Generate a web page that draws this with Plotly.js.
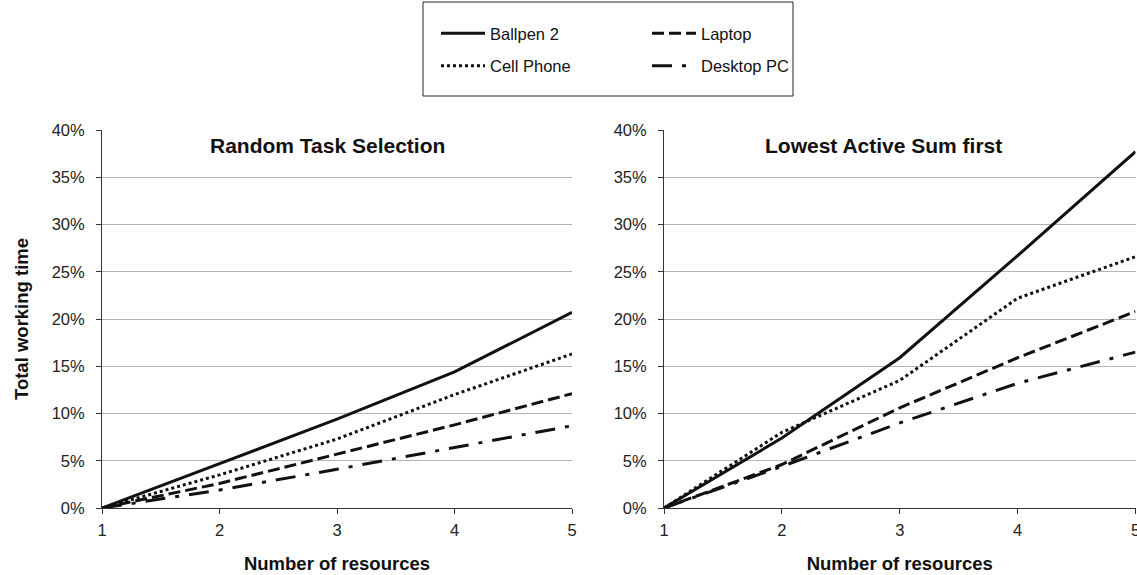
<!DOCTYPE html>
<html>
<head>
<meta charset="utf-8">
<script src="https://cdn.plot.ly/plotly-3.0.1.min.js"></script>
<style>html,body{margin:0;padding:0;background:#fff;}#chart{width:1137px;height:575px;}</style>
</head>
<body>
<div id="chart"></div>
<script>
// ---- data ----
const resources = [1, 2, 3, 4, 5];
const xTickLabels = ['1', '2', '3', '4', '5'];
const seriesNames = ['Ballpen 2', 'Cell Phone', 'Laptop', 'Desktop PC'];
const panelTitles = ['Random Task Selection', 'Lowest Active Sum first'];
const randomBallpen   = [0, 0.047, 0.094, 0.144, 0.207];
const randomCellPhone = [0, 0.035, 0.073, 0.120, 0.163];
const randomLaptop    = [0, 0.026, 0.057, 0.088, 0.121];
const randomDesktop   = [0, 0.019, 0.041, 0.064, 0.087];
const lowestBallpen   = [0, 0.074, 0.159, 0.267, 0.377];
const lowestCellPhone = [0, 0.080, 0.135, 0.222, 0.266];
const lowestLaptop    = [0, 0.046, 0.106, 0.159, 0.208];
const lowestDesktop   = [0, 0.044, 0.090, 0.132, 0.165];
const yTickVals = [0, 0.05, 0.10, 0.15, 0.20, 0.25, 0.30, 0.35, 0.40];
const yTickText = ['0%', '5%', '10%', '15%', '20%', '25%', '30%', '35%', '40%'];

// ---- styles ----
const W = 1137, H = 575;
const px = v => v / W;
const py = v => 1 - v / H;
const FONT = 'Liberation Sans, Arial, sans-serif';
const dashes = {
  'Ballpen 2': 'solid',
  'Cell Phone': '3px,3px',
  'Laptop': '12px,5px',
  'Desktop PC': '20px,10px,4px,10px'
};
const legendOf = {'Ballpen 2': 'legend', 'Cell Phone': 'legend', 'Laptop': 'legend2', 'Desktop PC': 'legend2'};
const randomData = [randomBallpen, randomCellPhone, randomLaptop, randomDesktop];
const lowestData = [lowestBallpen, lowestCellPhone, lowestLaptop, lowestDesktop];

const traces = [];
seriesNames.forEach((name, i) => {
  traces.push({
    x: resources, y: randomData[i], name: name, type: 'scatter', mode: 'lines',
    xaxis: 'x', yaxis: 'y', legend: legendOf[name], legendgroup: 'g' + i,
    line: {color: '#111', width: 3, dash: dashes[name]}, showlegend: true
  });
  traces.push({
    x: resources, y: lowestData[i], name: name, type: 'scatter', mode: 'lines',
    xaxis: 'x2', yaxis: 'y2', legendgroup: 'g' + i,
    line: {color: '#111', width: 3, dash: dashes[name]}, showlegend: false
  });
});

const tickFont = {family: FONT, size: 16.5, color: '#222'};
const titleFont = {family: FONT, size: 18.5, color: '#111', weight: 'bold'};

function xAxis(domain) {
  return {
    domain: domain, range: [1, 5], type: 'linear',
    tickvals: resources, ticktext: xTickLabels,
    showgrid: false, zeroline: false,
    showline: true, linecolor: '#333', linewidth: 1,
    ticks: 'outside', ticklen: 5, tickcolor: '#333', tickwidth: 1,
    tickfont: tickFont, ticklabelstandoff: 2, ticklabeloverflow: 'allow',
    title: {text: 'Number of resources', font: titleFont, standoff: 19},
    automargin: false, fixedrange: true
  };
}
function yAxis(anchor, withTitle) {
  const a = {
    domain: [py(508), py(130)], range: [0, 0.40], anchor: anchor,
    tickvals: yTickVals, ticktext: yTickText,
    showgrid: true, gridcolor: '#b5b5b5', gridwidth: 1,
    zeroline: false,
    showline: true, linecolor: '#333', linewidth: 1,
    ticks: 'outside', ticklen: 5, tickcolor: '#333', tickwidth: 1,
    tickfont: tickFont, ticklabelstandoff: 8, ticklabeloverflow: 'allow',
    automargin: false, fixedrange: true
  };
  if (withTitle) a.title = {text: 'Total working time', font: titleFont, standoff: 18};
  return a;
}

const legendFont = {family: FONT, size: 16.5, color: '#111'};
const layout = {
  width: W, height: H,
  margin: {l: 0, r: 0, t: 0, b: 0},
  paper_bgcolor: '#fff', plot_bgcolor: '#fff',
  xaxis: Object.assign(xAxis([px(102), px(572)]), {anchor: 'y'}),
  yaxis: yAxis('x', true),
  xaxis2: Object.assign(xAxis([px(664), px(1135.5)]), {anchor: 'y2'}),
  yaxis2: yAxis('x2', false),
  legend: {
    x: px(436), y: py(16), xanchor: 'left', yanchor: 'top',
    orientation: 'v', traceorder: 'grouped', tracegroupgap: 8,
    itemwidth: 44, bgcolor: 'rgba(0,0,0,0)', borderwidth: 0, font: legendFont
  },
  legend2: {
    x: px(647), y: py(16), xanchor: 'left', yanchor: 'top',
    orientation: 'v', traceorder: 'grouped', tracegroupgap: 8,
    itemwidth: 44, bgcolor: 'rgba(0,0,0,0)', borderwidth: 0, font: legendFont
  },
  shapes: [{
    type: 'rect', xref: 'paper', yref: 'paper',
    x0: px(423), x1: px(793), y0: py(96), y1: py(2),
    line: {color: '#222', width: 1}, fillcolor: 'rgba(0,0,0,0)'
  }],
  annotations: [
    {text: panelTitles[0], xref: 'paper', yref: 'paper', x: px(327), y: py(145),
     xanchor: 'center', yanchor: 'middle', showarrow: false,
     font: {family: FONT, size: 21, color: '#111', weight: 'bold'}},
    {text: panelTitles[1], xref: 'paper', yref: 'paper', x: px(883), y: py(145),
     xanchor: 'center', yanchor: 'middle', showarrow: false,
     font: {family: FONT, size: 21, color: '#111', weight: 'bold'}}
  ]
};

Plotly.newPlot('chart', traces, layout, {staticPlot: true, displayModeBar: false});
</script>
</body>
</html>
